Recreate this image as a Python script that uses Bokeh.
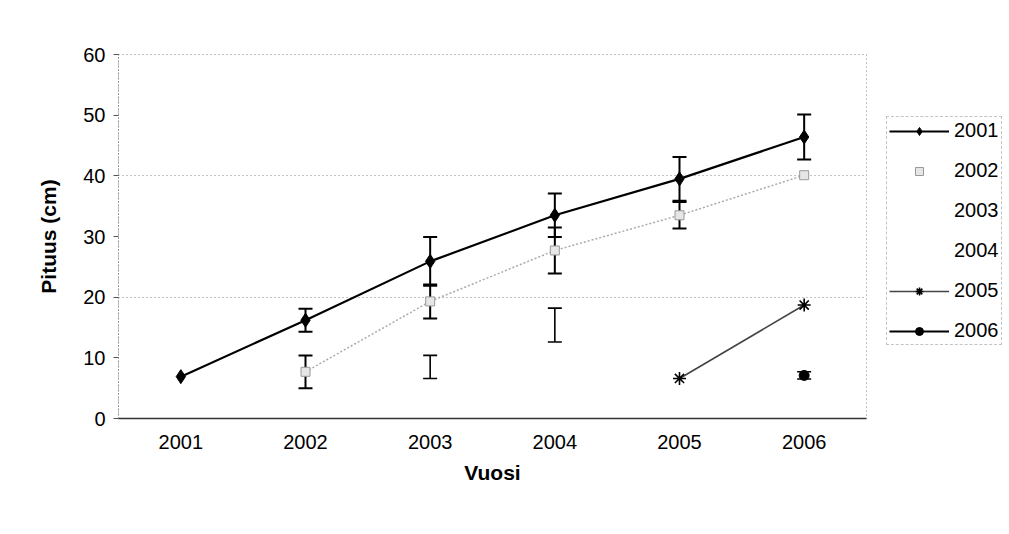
from bokeh.plotting import figure
from bokeh.layouts import row
from bokeh.models import (ColumnDataSource, Whisker, TeeHead, Legend, LegendItem,
                          Range1d, FixedTicker)
from bokeh.embed import file_html
from bokeh.resources import INLINE

nan = float("nan")
years = ["2001", "2002", "2003", "2004", "2005", "2006"]
y_ticks = [0, 10, 20, 30, 40, 50, 60]
series_names = ["2001", "2002", "2003", "2004", "2005", "2006"]

s2001 = [6.9, 16.2, 25.9, 33.5, 39.5, 46.4]
e2001 = [0.0, 1.9, 4.0, 3.6, 3.6, 3.7]
s2002 = [nan, 7.7, 19.3, 27.7, 33.5, 40.1]
e2002 = [0.0, 2.7, 2.8, 3.8, 2.2, 0.0]
s2003 = [nan, nan, 8.5, nan, nan, nan]
e2003 = [0.0, 0.0, 1.9, 0.0, 0.0, 0.0]
s2004 = [nan, nan, nan, 15.4, nan, nan]
e2004 = [0.0, 0.0, 0.0, 2.8, 0.0, 0.0]
s2005 = [nan, nan, nan, nan, 6.6, 18.7]
e2005 = [0.0, 0.0, 0.0, 0.0, 0.0, 0.0]
s2006 = [nan, nan, nan, nan, nan, 7.1]
e2006 = [0.0, 0.0, 0.0, 0.0, 0.0, 0.6]

FONT = "Liberation Sans"
H = 530

p = figure(x_range=years, y_range=Range1d(0, 60), width=885, height=H,
           output_backend="svg", toolbar_location=None,
           min_border_left=118, min_border_right=19, min_border_top=54,
           min_border_bottom=H - 418)

p.background_fill_color = "white"
p.border_fill_color = "white"
p.outline_line_color = "#888888"
p.outline_line_dash = "1 3"
p.outline_line_width = 1

p.xgrid.grid_line_color = None
p.ygrid.ticker = FixedTicker(ticks=[20, 40, 60])
p.ygrid.grid_line_color = "#888888"
p.ygrid.grid_line_dash = "1 3"
p.ygrid.grid_line_width = 1

p.yaxis.ticker = FixedTicker(ticks=y_ticks)
p.yaxis.axis_line_color = "#777777"
p.yaxis.axis_line_dash = "1 2"
p.yaxis.major_tick_line_color = "#555555"
p.yaxis.major_tick_in = 0
p.yaxis.major_tick_out = 5
p.yaxis.minor_tick_line_color = None
p.yaxis.major_label_standoff = 8
p.yaxis.major_label_text_font = FONT
p.yaxis.major_label_text_font_size = "20px"
p.yaxis.major_label_text_color = "black"
p.yaxis.axis_label = "Pituus (cm)"
p.yaxis.axis_label_text_font = FONT
p.yaxis.axis_label_text_font_size = "21px"
p.yaxis.axis_label_text_font_style = "bold"
p.yaxis.axis_label_text_color = "black"
p.yaxis.axis_label_standoff = 20

p.xaxis.axis_line_color = "#333333"
p.xaxis.axis_line_width = 1.5
p.xaxis.major_tick_line_color = None
p.xaxis.major_label_standoff = 10
p.xaxis.major_label_text_font = FONT
p.xaxis.major_label_text_font_size = "20px"
p.xaxis.major_label_text_color = "black"
p.xaxis.axis_label = "Vuosi"
p.xaxis.axis_label_text_font = FONT
p.xaxis.axis_label_text_font_size = "21px"
p.xaxis.axis_label_text_font_style = "bold"
p.xaxis.axis_label_text_color = "black"
p.xaxis.axis_label_standoff = 9


def add_err(vals, errs, width=2.0, color="black"):
    xs, up, lo = [], [], []
    for x, v, e in zip(years, vals, errs):
        if v == v and e > 0:
            xs.append(x)
            up.append(v + e)
            lo.append(v - e)
    if not xs:
        return
    src = ColumnDataSource(dict(x=xs, up=up, lo=lo))
    w = Whisker(source=src, base="x", upper="up", lower="lo",
                line_color=color, line_width=width,
                upper_head=TeeHead(size=14, line_width=width, line_color=color),
                lower_head=TeeHead(size=14, line_width=width, line_color=color))
    p.add_layout(w)


add_err(s2002, e2002, 2.0)
add_err(s2003, e2003, 1.6)
add_err(s2004, e2004, 1.6)
add_err(s2001, e2001, 2.0)
add_err(s2006, e2006, 1.6)

STY = {
    "2001": dict(line=dict(line_color="black", line_width=2.2),
                 mark=dict(marker="diamond", size=14, fill_color="black", line_color="black")),
    "2002": dict(line=dict(line_color="#aaaaaa", line_width=1.5, line_dash="2 2"),
                 mark=dict(marker="square", size=9, fill_color="#e6e6e6",
                           line_color="#999999", line_width=1)),
    "2003": dict(line=dict(line_color="white", line_width=1), mark=None),
    "2004": dict(line=dict(line_color="white", line_width=1), mark=None),
    "2005": dict(line=dict(line_color="#444444", line_width=1.6),
                 mark=dict(marker="asterisk", size=13, line_color="black", line_width=1.6)),
    "2006": dict(line=dict(line_color="black", line_width=2),
                 mark=dict(marker="circle", size=10, fill_color="black", line_color="black")),
}
DATA = {"2001": s2001, "2002": s2002, "2003": s2003, "2004": s2004,
        "2005": s2005, "2006": s2006}

for name in ["2002", "2003", "2004", "2005", "2006", "2001"]:
    st = STY[name]
    p.line(years, DATA[name], **st["line"])
    if st["mark"]:
        p.scatter(years, DATA[name], **st["mark"])

# legend panel (separate canvas to the right of the plot; frames align in a row)
lf = figure(width=124, height=H, output_backend="svg", toolbar_location=None,
            x_axis_type=None, y_axis_type=None, min_border=0,
            x_range=Range1d(0, 1), y_range=Range1d(0, 1))
lf.outline_line_color = None
lf.grid.visible = False
lf.background_fill_color = "white"
lf.border_fill_color = "white"

# proxy renderers for the legend, placed outside the visible range
px, py = [5, 6], [5, 6]
items = []
for name in series_names:
    st = STY[name]
    rs = []
    if name != "2002":
        rs.append(lf.line(x=px, y=py, **st["line"]))
    if st["mark"]:
        rs.append(lf.scatter(x=px, y=py, **st["mark"]))
    items.append(LegendItem(label=name, renderers=rs, index=0))

legend = Legend(items=items, location=(1, 73))
legend.label_text_font = FONT
legend.label_text_font_size = "20px"
legend.label_text_color = "black"
legend.label_height = 20
legend.glyph_height = 20
legend.glyph_width = 60
legend.spacing = 17
legend.padding = 2
legend.margin = 0
legend.label_standoff = 5
legend.border_line_color = "#888888"
legend.border_line_dash = "1 3"
legend.background_fill_color = "white"
legend.background_fill_alpha = 1.0
lf.add_layout(legend, "center")

layout = row(p, lf)
open("out.html", "w").write(file_html(layout, INLINE))
